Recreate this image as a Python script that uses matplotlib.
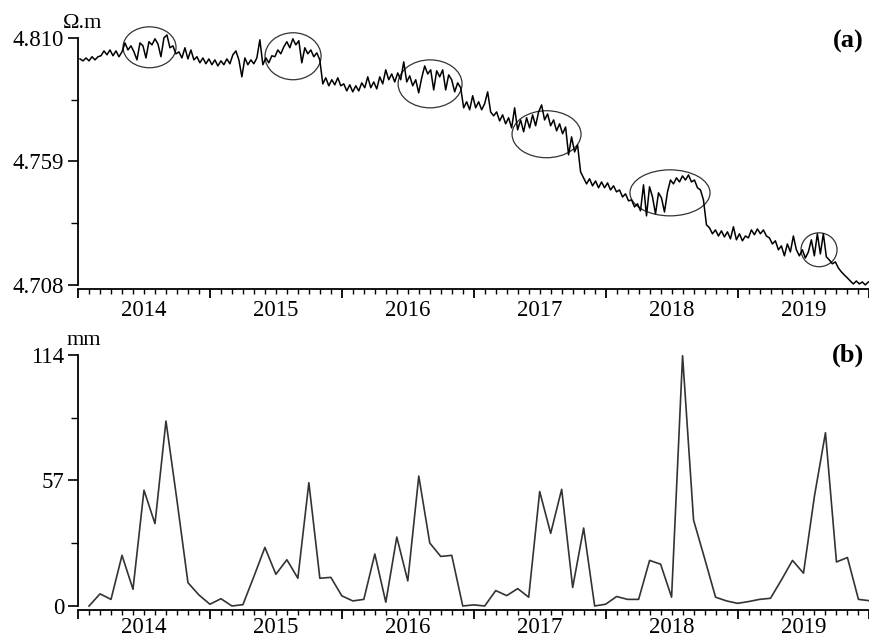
import matplotlib
matplotlib.use("Agg")
import matplotlib.pyplot as plt
import numpy as np
from matplotlib.patches import Ellipse
from matplotlib.ticker import MultipleLocator, NullFormatter

# apparent resistivity (Ohm.m), one reading about every 8.3 days from Jan 2014
res = [
    4.8013, 4.8005, 4.8017, 4.8005, 4.8022, 4.8009, 4.8022, 4.8026, 4.8046, 4.8030,
    4.8050, 4.8026, 4.8046, 4.8022, 4.8042, 4.8079, 4.8050, 4.8067, 4.8042, 4.8009,
    4.8079, 4.8067, 4.8017, 4.8084, 4.8071, 4.8096, 4.8075, 4.8022, 4.8100, 4.8112,
    4.8059, 4.8067, 4.8034, 4.8042, 4.8017, 4.8059, 4.8013, 4.8050, 4.8009, 4.8022,
    4.7997, 4.8017, 4.7993, 4.8013, 4.7989, 4.8009, 4.7984, 4.8005, 4.7989, 4.8013,
    4.7993, 4.8030, 4.8046, 4.8009, 4.7939, 4.8017, 4.7989, 4.8009, 4.7993, 4.8017,
    4.8092, 4.7989, 4.8017, 4.7997, 4.8026, 4.8022, 4.8050, 4.8034, 4.8063, 4.8084,
    4.8059, 4.8096, 4.8071, 4.8088, 4.7997, 4.8059, 4.8034, 4.8050, 4.8022, 4.8038,
    4.8009, 4.7910, 4.7935, 4.7902, 4.7927, 4.7906, 4.7935, 4.7902, 4.7910, 4.7881,
    4.7906, 4.7877, 4.7902, 4.7881, 4.7914, 4.7894, 4.7939, 4.7894, 4.7918, 4.7889,
    4.7939, 4.7910, 4.7968, 4.7927, 4.7951, 4.7918, 4.7955, 4.7927, 4.8001, 4.7918,
    4.7943, 4.7902, 4.7927, 4.7873, 4.7935, 4.7984, 4.7951, 4.7968, 4.7885, 4.7964,
    4.7939, 4.7968, 4.7885, 4.7947, 4.7927, 4.7877, 4.7914, 4.7894, 4.7811, 4.7836,
    4.7803, 4.7861, 4.7811, 4.7836, 4.7803, 4.7828, 4.7877, 4.7794, 4.7778, 4.7794,
    4.7757, 4.7782, 4.7745, 4.7770, 4.7728, 4.7811, 4.7720, 4.7761, 4.7712, 4.7770,
    4.7728, 4.7782, 4.7737, 4.7794, 4.7823, 4.7761, 4.7786, 4.7737, 4.7761, 4.7716,
    4.7745, 4.7704, 4.7732, 4.7617, 4.7691, 4.7629, 4.7658, 4.7547, 4.7522, 4.7497,
    4.7518, 4.7489, 4.7509, 4.7481, 4.7505, 4.7481, 4.7501, 4.7472, 4.7489, 4.7464,
    4.7472, 4.7443, 4.7456, 4.7427, 4.7431, 4.7402, 4.7415, 4.7386, 4.7493, 4.7365,
    4.7485, 4.7443, 4.7373, 4.7460, 4.7439, 4.7381, 4.7464, 4.7513, 4.7497, 4.7522,
    4.7505, 4.7530, 4.7513, 4.7534, 4.7505, 4.7513, 4.7481, 4.7472, 4.7431, 4.7328,
    4.7316, 4.7291, 4.7307, 4.7282, 4.7303, 4.7278, 4.7299, 4.7270, 4.7320, 4.7266,
    4.7291, 4.7262, 4.7282, 4.7274, 4.7307, 4.7287, 4.7311, 4.7291, 4.7307, 4.7282,
    4.7274, 4.7249, 4.7262, 4.7225, 4.7241, 4.7200, 4.7249, 4.7216, 4.7282, 4.7225,
    4.7200, 4.7225, 4.7191, 4.7216, 4.7266, 4.7200, 4.7291, 4.7208, 4.7291, 4.7196,
    4.7183, 4.7167, 4.7175, 4.7150, 4.7134, 4.7121, 4.7109, 4.7096, 4.7084, 4.7096,
    4.7084, 4.7092, 4.7080, 4.7092,
]
res_start = 2014.015
res_step_days = 8.3

# monthly rainfall (mm), Feb 2014 .. Jan 2020
rain = [
    0, 5.5, 3, 23, 7.6, 52.6, 37.4, 84, 48, 10.6, 5, 0.8,
    3.3, 0, 0.6, 13.4, 26.6, 14.4, 21, 12.6, 56, 12.6, 13, 4.6,
    2.3, 3, 23.6, 1.7, 31.3, 11.4, 59, 28.6, 22.5, 23, 0, 0.5,
    0, 7, 4.7, 7.9, 4, 52, 33, 53, 8.4, 35.4, 0, 0.8,
    4.3, 3, 3, 20.7, 19, 4, 113.7, 39, 21.7, 4, 2.3, 1.2,
    2, 3, 3.5, 11.9, 20.7, 14.9, 50, 78.7, 20, 22, 3, 2.4,
]

# anomaly ellipses: centre (year, Ohm.m), width (years), height (Ohm.m)
ell_t = [2014.542, 2015.630, 2016.669, 2017.552, 2018.488, 2019.618]
ell_v = [4.8061, 4.8024, 4.7910, 4.7702, 4.7460, 4.7225]
ell_w = [0.402, 0.425, 0.485, 0.523, 0.607, 0.273]
ell_h = [0.0169, 0.0194, 0.0198, 0.0194, 0.0190, 0.0140]

years = [2014, 2015, 2016, 2017, 2018, 2019]

t_res = res_start + np.arange(len(res)) * res_step_days / 365.25
t_rain = 2014 + np.arange(1, len(rain) + 1) / 12.0

serif = ["Liberation Serif", "DejaVu Serif"]
plt.rcParams["font.family"] = serif

fig = plt.figure(figsize=(8.69, 6.37), dpi=100)
ax1 = fig.add_axes([0.0898, 0.5463, 0.9107, 0.4000])
ax2 = fig.add_axes([0.0898, 0.0424, 0.9107, 0.4003])


def style(ax, lo, hi, mid, yfmt, ylab_off):
    for s in ["top", "right"]:
        ax.spines[s].set_visible(False)
    ax.spines["left"].set_bounds(lo, hi)
    ax.spines["left"].set_linewidth(1.3)
    ax.spines["bottom"].set_linewidth(1.3)
    ax.set_xlim(2014, 2020)
    ax.xaxis.set_major_locator(MultipleLocator(1))
    ax.xaxis.set_minor_locator(MultipleLocator(1 / 12))
    ax.xaxis.set_major_formatter(NullFormatter())
    ax.tick_params(axis="x", which="major", direction="out", length=6.5, width=1.3)
    ax.tick_params(axis="x", which="minor", direction="out", length=3.5, width=1.0)
    ax.set_yticks([lo, mid, hi])
    ax.set_yticklabels([yfmt % v for v in [lo, mid, hi]])
    ax.set_yticks([(lo + mid) / 2, (mid + hi) / 2], minor=True)
    ax.tick_params(axis="y", which="major", direction="out", length=7, width=1.2,
                   labelsize=16.5, pad=3)
    ax.tick_params(axis="y", which="minor", direction="out", length=5, width=1.0)
    for y in years:
        ax.annotate(str(y), xy=(y + 0.5, 0), xycoords=("data", "axes fraction"),
                    xytext=(0, ylab_off), textcoords="offset points",
                    ha="center", va="center", fontsize=16.5)


ax1.plot(t_res, res, color="black", lw=1.1)
for t, v, w, h in zip(ell_t, ell_v, ell_w, ell_h):
    ax1.add_patch(Ellipse((t, v), w, h, fill=False, edgecolor="#333333",
                          lw=0.9, clip_on=False))
ax1.set_ylim(4.7063, 4.8115)
style(ax1, 4.708, 4.810, 4.759, "%.3f", -15.5)
fig.text(63 / 869, 1 - 23 / 637, "Ω.m", fontsize=16, ha="left", va="center")
ax1.text(0.993, 0.97, "(a)", transform=ax1.transAxes, fontsize=19,
         fontweight="bold", ha="right", va="center")

ax2.plot(t_rain, rain, color="#333333", lw=1.2)
ax2.set_ylim(-1.82, 114)
style(ax2, 0, 114, 57, "%d", -12.5)
ax2.text(0.993, 1.0, "(b)", transform=ax2.transAxes, fontsize=19,
         fontweight="bold", ha="right", va="center")
fig.text(67 / 869, 1 - 340 / 637, "mm", fontsize=16, ha="left", va="center")

fig.savefig("out.png", dpi=100)
